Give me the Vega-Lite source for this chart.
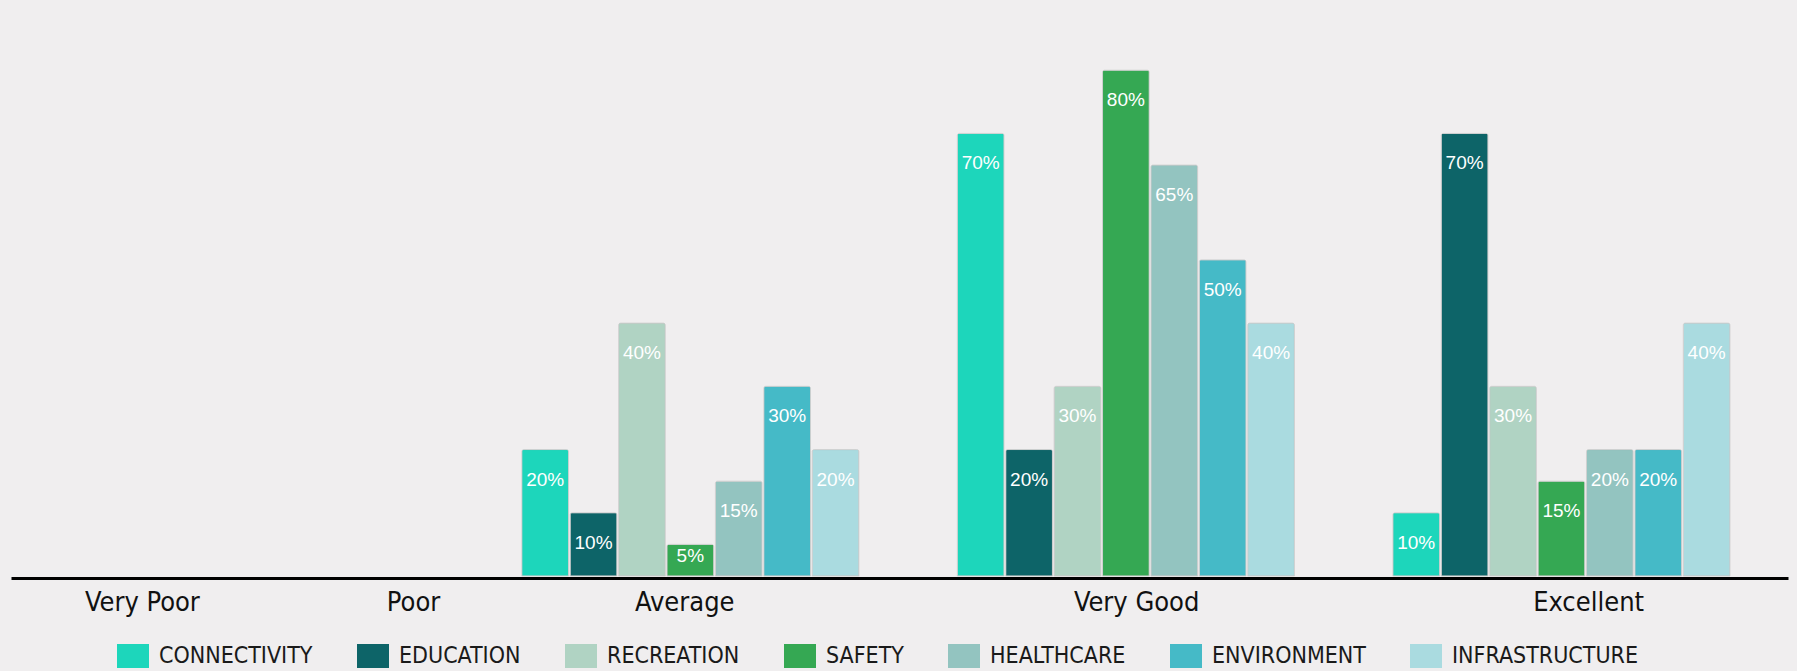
{
  "$schema": "https://vega.github.io/schema/vega-lite/v6.json",
  "width": 1777,
  "height": 576,
  "autosize": {"type": "none"},
  "padding": {"left": 11, "top": 0, "right": 9, "bottom": 95},
  "background": "#f0eeef",
  "config": {"view": {"stroke": null}},
  "datasets": {
    "scores": [
      {"rating": "Average", "category": "CONNECTIVITY", "value": 20},
      {"rating": "Average", "category": "EDUCATION", "value": 10},
      {"rating": "Average", "category": "RECREATION", "value": 40},
      {"rating": "Average", "category": "SAFETY", "value": 5},
      {"rating": "Average", "category": "HEALTHCARE", "value": 15},
      {"rating": "Average", "category": "ENVIRONMENT", "value": 30},
      {"rating": "Average", "category": "INFRASTRUCTURE", "value": 20},
      {"rating": "Very Good", "category": "CONNECTIVITY", "value": 70},
      {"rating": "Very Good", "category": "EDUCATION", "value": 20},
      {"rating": "Very Good", "category": "RECREATION", "value": 30},
      {"rating": "Very Good", "category": "SAFETY", "value": 80},
      {"rating": "Very Good", "category": "HEALTHCARE", "value": 65},
      {"rating": "Very Good", "category": "ENVIRONMENT", "value": 50},
      {"rating": "Very Good", "category": "INFRASTRUCTURE", "value": 40},
      {"rating": "Excellent", "category": "CONNECTIVITY", "value": 10},
      {"rating": "Excellent", "category": "EDUCATION", "value": 70},
      {"rating": "Excellent", "category": "RECREATION", "value": 30},
      {"rating": "Excellent", "category": "SAFETY", "value": 15},
      {"rating": "Excellent", "category": "HEALTHCARE", "value": 20},
      {"rating": "Excellent", "category": "ENVIRONMENT", "value": 20},
      {"rating": "Excellent", "category": "INFRASTRUCTURE", "value": 40}
    ],
    "ratings": [
      {"rating": "Very Poor"},
      {"rating": "Poor"},
      {"rating": "Average"},
      {"rating": "Very Good"},
      {"rating": "Excellent"}
    ]
  },
  "layer": [
    {
      "data": {"name": "scores"},
      "encoding": {
        "x": {
          "field": "rating",
          "type": "nominal",
          "sort": ["Average", "Very Good", "Excellent"],
          "scale": {"domain": ["Average", "Very Good", "Excellent"], "paddingInner": 0.226, "paddingOuter": 0.653, "align": 0.898},
          "axis": {"orient": "bottom", "labels": false, "ticks": false, "title": null, "domain": true, "domainColor": "#000000", "domainWidth": 3, "offset": 2, "grid": false}
        },
        "xOffset": {
          "field": "category",
          "type": "nominal",
          "scale": {"domain": ["CONNECTIVITY", "EDUCATION", "RECREATION", "SAFETY", "HEALTHCARE", "ENVIRONMENT", "INFRASTRUCTURE"], "paddingInner": 0.035, "paddingOuter": 0}
        },
        "y": {"field": "value", "type": "quantitative", "scale": {"domain": [0, 91.1], "nice": false, "zero": true}, "axis": null}
      },
      "layer": [
        {
          "mark": {"type": "bar", "stroke": "#c9c9c9", "strokeWidth": 1, "strokeOpacity": 0.7, "cornerRadiusTopLeft": 2, "cornerRadiusTopRight": 2},
          "encoding": {
            "color": {
              "field": "category",
              "type": "nominal",
              "scale": {
                "domain": ["CONNECTIVITY", "EDUCATION", "RECREATION", "SAFETY", "HEALTHCARE", "ENVIRONMENT", "INFRASTRUCTURE"],
                "range": ["#1dd6bb", "#0d6468", "#b0d3c3", "#35a853", "#93c4c0", "#45bac7", "#aadbe0"]
              },
              "legend": {
                "orient": "none",
                "legendX": 106,
                "legendY": 644,
                "direction": "horizontal",
                "columns": 7,
                "title": null,
                "padding": 0,
                "symbolType": "M-1.333,-1L1.333,-1L1.333,1L-1.333,1Z",
                "symbolSize": 576,
                "symbolOffset": 4,
                "symbolStrokeWidth": 0,
                "symbolOpacity": 1,
                "labelOffset": 14,
                "labelFont": "DejaVu Sans Condensed, Liberation Sans",
                "labelFontSize": 23,
                "labelColor": "#1a1a1a",
                "labelLimit": 400,
                "columnPadding": 44
              }
            }
          }
        },
        {
          "transform": [{"filter": "datum.value >= 10"}],
          "mark": {"type": "text", "color": "#ffffff", "font": "Liberation Sans", "fontSize": 19, "baseline": "alphabetic", "align": "center", "dy": 36, "text": {"expr": "datum.value + '%'"}},
          "encoding": {}
        },
        {
          "transform": [{"filter": "datum.value < 10"}],
          "mark": {"type": "text", "color": "#ffffff", "font": "Liberation Sans", "fontSize": 19, "baseline": "alphabetic", "align": "center", "dy": 18, "text": {"expr": "datum.value + '%'"}},
          "encoding": {}
        }
      ]
    },
    {
      "data": {"name": "ratings"},
      "mark": {"type": "point", "opacity": 0},
      "encoding": {
        "x": {
          "field": "rating",
          "type": "nominal",
          "scale": {
            "type": "point",
            "domain": ["s0", "Very Poor", "s1", "s2", "Poor", "s3", "s4", "Average", "s5", "s6", "s7", "s8", "Very Good", "s9", "s10", "s11", "s12", "Excellent", "s13"],
            "padding": 0.83,
            "align": 0.27
          },
          "axis": {
            "orient": "bottom",
            "values": ["Very Poor", "Poor", "Average", "Very Good", "Excellent"],
            "domain": false,
            "ticks": false,
            "grid": false,
            "title": null,
            "labelAngle": 0,
            "labelFont": "DejaVu Sans Condensed, Liberation Sans",
            "labelFontSize": 27,
            "labelColor": "#111111",
            "labelPadding": 13,
            "labelLimit": 300
          }
        }
      }
    }
  ],
  "resolve": {"scale": {"x": "independent"}, "axis": {"x": "independent"}}
}
